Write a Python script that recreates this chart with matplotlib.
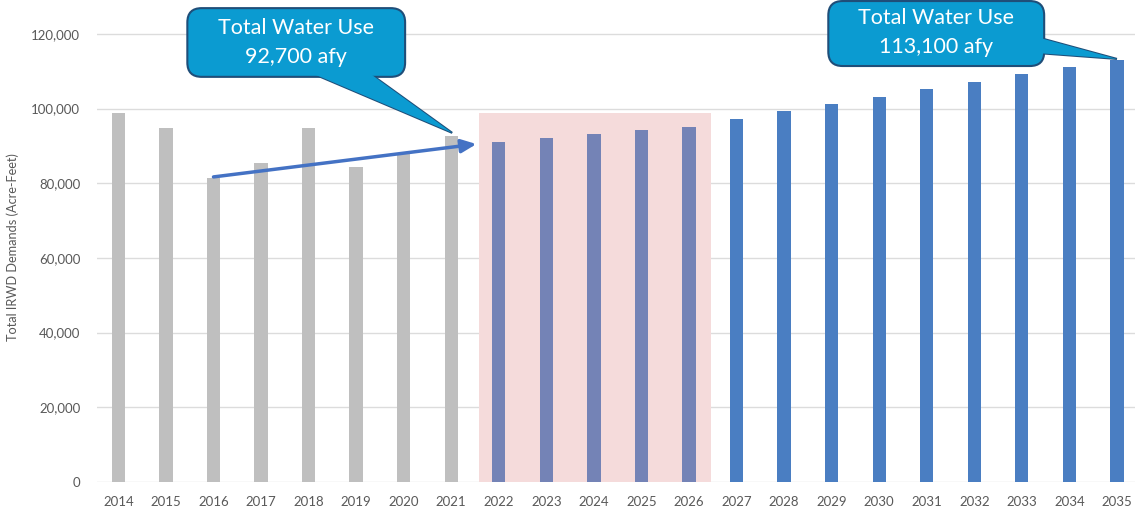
import matplotlib
matplotlib.use("Agg")
import matplotlib.pyplot as plt
from matplotlib.patches import FancyBboxPatch, Polygon, Rectangle
from matplotlib.ticker import FuncFormatter

plt.rcParams['font.family'] = ['Lato', 'DejaVu Sans']

# data
years = list(range(2014, 2036))
demand = [98800, 94800, 81300, 85400, 94800, 84400, 88100, 92700,
          91100, 92100, 93200, 94300, 95100,
          97200, 99400, 101200, 103100, 105200, 107100, 109300, 111100, 113100]
n_hist = 8      # 2014-2021 actuals
n_window = 5    # 2022-2026 highlighted
callout_texts = ["Total Water Use\n92,700 afy", "Total Water Use\n113,100 afy"]

gray = '#bfbfbf'
muted_blue = '#7483b6'
blue = '#4a7ec2'
pink = '#f5dbdb'
callout_fc = '#0b9bd1'
callout_ec = '#1f4e79'

fig = plt.figure(figsize=(11.35, 5.18), dpi=100)
W, H = 1135, 518
ax = fig.add_axes([97 / W, (518 - 482) / H, 1 - 97 / W, (482 - 11.5) / H])

x = list(range(len(years)))
colors = [gray] * n_hist + [muted_blue] * n_window + [blue] * (len(years) - n_hist - n_window)

# highlighted planning window
ax.add_patch(Rectangle((n_hist - 0.41, 0), n_window - 1 + 0.87, 98800,
                       facecolor=pink, edgecolor='none', zorder=1))

ax.bar(x, demand, width=0.28, color=colors, zorder=2)

ax.set_xlim(-0.45, len(years) - 1 + 0.38)
ax.set_ylim(0, 126000)
ax.set_yticks(range(0, 120001, 20000))
ax.yaxis.set_major_formatter(FuncFormatter(lambda v, p: f"{int(v):,}"))
ax.set_xticks(x)
ax.set_xticklabels([str(y) for y in years])
ax.grid(axis='y', color='#dcdcdc', linewidth=1, zorder=0)
ax.set_axisbelow(True)
for s in ax.spines.values():
    s.set_visible(False)
ax.tick_params(axis='both', length=0, labelsize=9.5, colors='#595959')
ax.tick_params(axis='y', pad=12)
ax.tick_params(axis='x', pad=10)
ax.set_ylabel("Total IRWD Demands (Acre-Feet)", fontsize=9.2, color='#595959', labelpad=9)

# trend arrow from 2016 to the planning window
ax.annotate("", xy=(7.53, 90500), xytext=(2.0, 81700),
            arrowprops=dict(arrowstyle='-|>,head_length=0.9,head_width=0.4',
                            color='#4472c4', lw=2.5, shrinkA=0, shrinkB=0),
            zorder=5)

# pixel -> y units aspect for round corners
aspect = 267.8 * 47.57


def callout(x0, x1, y0, y1, tri, text, ty):
    t1 = Polygon(tri, closed=True, facecolor=callout_fc, edgecolor=callout_ec,
                 lw=1.5, zorder=6, clip_on=False)
    ax.add_patch(t1)
    box = FancyBboxPatch((x0, y0), x1 - x0, y1 - y0,
                         boxstyle='round,pad=0,rounding_size=0.3',
                         mutation_aspect=aspect,
                         facecolor=callout_fc, edgecolor=callout_ec, lw=1.5,
                         zorder=7, clip_on=False)
    ax.add_patch(box)
    t2 = Polygon(tri, closed=True, facecolor=callout_fc, edgecolor='none',
                 zorder=8, clip_on=False)
    ax.add_patch(t2)
    ax.text((x0 + x1) / 2, ty, text, ha='center', va='center', color='white',
            fontsize=15.5, linespacing=1.55, zorder=9)


# callout pointing at 2021
callout(1.45, 6.03, 108500, 126900,
        [(4.10, 109300), (5.30, 109300), (7.02, demand[7] + 800)],
        callout_texts[0], 117700)

# callout pointing at 2035
callout(14.93, 19.47, 111400, 128800,
        [(19.3, 119200), (19.3, 114900), (21.0, demand[-1] + 200)],
        callout_texts[1], 120300)

fig.savefig("out.png", dpi=100)
